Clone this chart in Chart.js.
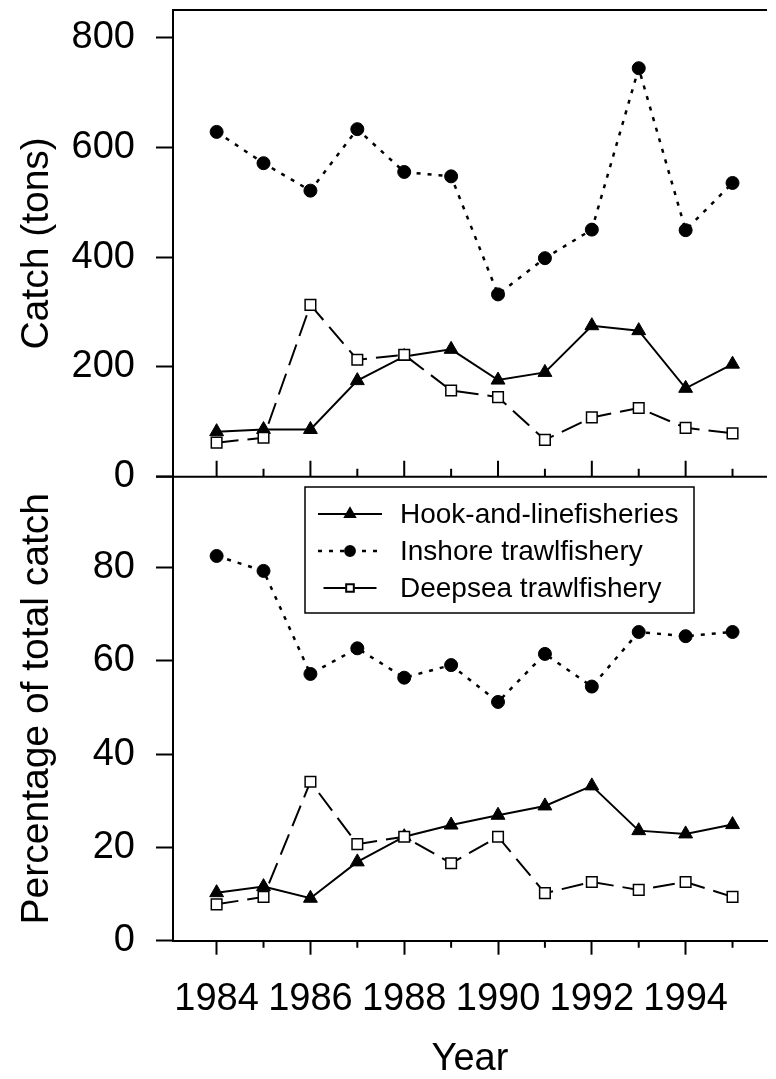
<!DOCTYPE html>
<html>
<head>
<meta charset="utf-8">
<script src="https://cdn.jsdelivr.net/npm/chart.js"></script>
<style>
  html, body { margin: 0; padding: 0; background: #fff; }
  canvas { display: block; }
</style>
</head>
<body>
<canvas id="catchChart" width="776" height="1079"></canvas>
<script>
// data
const years = [1984, 1985, 1986, 1987, 1988, 1989, 1990, 1991, 1992, 1993, 1994, 1995];
const yearLabels = [1984, 1986, 1988, 1990, 1992, 1994];

const hookTons    = [82, 86, 86, 175, 219, 232, 176, 190, 275, 266, 161, 205];
const inshoreTons = [628, 571, 521, 633, 555, 547, 332, 398, 450, 744, 449, 535];
const deepseaTons = [62, 71, 313, 213, 222, 157, 145, 67, 108, 125, 89, 79];

const hookPct    = [10.3, 11.6, 9.1, 16.9, 22.3, 24.8, 26.9, 28.9, 33.2, 23.6, 22.9, 24.9];
const inshorePct = [82.5, 79.3, 57.2, 62.7, 56.4, 59.1, 51.2, 61.5, 54.5, 66.2, 65.3, 66.2];
const deepseaPct = [7.8, 9.4, 34.1, 20.7, 22.3, 16.6, 22.3, 10.2, 12.6, 10.9, 12.6, 9.4];

const tonTicks = [0, 200, 400, 600, 800];
const pctTicks = [0, 20, 40, 60, 80];

Chart.defaults.font.family = "'Liberation Sans', Arial, sans-serif";
Chart.defaults.color = '#000';

const hookStyle = {borderWidth: 2, borderDash: [], pointStyle: 'triangle', pointRadius: 8,
  pointBackgroundColor: '#000', pointBorderWidth: 1, order: 1};
const inshoreStyle = {borderWidth: 2.5, borderDash: [4, 7], pointStyle: 'circle', pointRadius: 6.5,
  pointBackgroundColor: '#000', pointBorderWidth: 1, order: 2};
const deepseaStyle = {borderWidth: 2, borderDash: [22, 9], pointStyle: 'rect', pointRadius: 7.5,
  pointBackgroundColor: '#fff', pointBorderWidth: 1.5, order: 0};

function series(label, values, yAxisID, style) {
  return Object.assign({
    label: label,
    data: years.map((yr, i) => ({x: yr, y: values[i]})),
    yAxisID: yAxisID,
    borderColor: '#000',
    pointBorderColor: '#000',
    tension: 0,
    fill: false
  }, style);
}

function yAxis(ticks, max, title, weight) {
  return {
    type: 'linear', position: 'left', stack: 'panels', stackWeight: weight,
    min: 0, max: max,
    afterBuildTicks: s => { s.ticks = ticks.map(v => ({value: v})); },
    afterFit: s => { s.width = 173; s.paddingTop = 0; s.paddingBottom = 0; },
    grid: {drawOnChartArea: false, tickLength: 17, tickWidth: 2, tickColor: '#000'},
    border: {display: true, color: '#000', width: 2},
    ticks: {font: {size: 38}, padding: 21, color: '#000'},
    title: {display: true, text: title, color: '#000', font: {size: 39, lineHeight: 1},
      padding: {top: 18, bottom: 0}}
  };
}

// frame: top border, middle axis and the year ticks pointing up into the top panel
const panelFrame = {
  id: 'panelFrame',
  beforeDatasetsDraw(chart) {
    const {ctx, chartArea: a, scales: {x, yTop}} = chart;
    const mid = yTop.getPixelForValue(0);
    ctx.save();
    ctx.strokeStyle = '#000';
    ctx.lineWidth = 2;
    ctx.beginPath();
    ctx.moveTo(a.left, a.top); ctx.lineTo(a.right, a.top);
    ctx.moveTo(a.left - 17, mid); ctx.lineTo(a.right, mid);
    years.forEach(yr => {
      const px = x.getPixelForValue(yr);
      const major = yearLabels.includes(yr);
      ctx.moveTo(px, mid); ctx.lineTo(px, mid - (major ? 16 : 8));
      if (!major) { ctx.moveTo(px, a.bottom); ctx.lineTo(px, a.bottom + 7); }
    });
    ctx.stroke();
    ctx.restore();
  }
};

const legendBox = {left: 305, top: 487, width: 389, height: 126, firstRow: 27, rowGap: 37};

const boxLegend = {
  id: 'boxLegend',
  afterDatasetsDraw(chart) {
    const {ctx} = chart;
    const L = legendBox;
    ctx.save();
    ctx.fillStyle = '#fff';
    ctx.fillRect(L.left, L.top, L.width, L.height);
    ctx.strokeStyle = '#000';
    ctx.lineWidth = 1.5;
    ctx.strokeRect(L.left, L.top, L.width, L.height);
    const items = chart.data.datasets.filter(d => d.yAxisID === 'yBot');
    items.forEach((d, i) => {
      const cy = L.top + L.firstRow + i * L.rowGap;
      ctx.setLineDash(d.borderDash);
      // put the long-dash gap under the marker so the sample reads like the figure
      ctx.lineDashOffset = d.borderDash.length && d.borderDash[0] > 10 ? 25.5 : 0;
      ctx.lineWidth = d.borderWidth;
      ctx.strokeStyle = '#000';
      ctx.beginPath();
      ctx.moveTo(L.left + 13, cy); ctx.lineTo(L.left + 77, cy);
      ctx.stroke();
      ctx.setLineDash([]);
      ctx.fillStyle = d.pointBackgroundColor;
      Chart.helpers.drawPoint(ctx, {pointStyle: d.pointStyle, radius: d.pointRadius * 0.72,
        borderWidth: d.pointBorderWidth, rotation: 0}, L.left + 45, cy);
      ctx.fillStyle = '#000';
      ctx.font = "28px 'Liberation Sans', Arial, sans-serif";
      ctx.textBaseline = 'middle';
      ctx.textAlign = 'left';
      ctx.fillText(d.label, L.left + 95, cy + 1);
    });
    ctx.restore();
  }
};

new Chart(document.getElementById('catchChart').getContext('2d'), {
  type: 'line',
  data: {
    datasets: [
      series('Hook-and-linefisheries', hookTons, 'yTop', hookStyle),
      series('Inshore trawlfishery', inshoreTons, 'yTop', inshoreStyle),
      series('Deepsea trawlfishery', deepseaTons, 'yTop', deepseaStyle),
      series('Hook-and-linefisheries', hookPct, 'yBot', hookStyle),
      series('Inshore trawlfishery', inshorePct, 'yBot', inshoreStyle),
      series('Deepsea trawlfishery', deepseaPct, 'yBot', deepseaStyle)
    ]
  },
  options: {
    responsive: false,
    animation: false,
    devicePixelRatio: 1,
    layout: {padding: {top: 10, left: 0, right: 0, bottom: 0}},
    plugins: {legend: {display: false}, tooltip: {enabled: false}},
    scales: {
      x: {
        type: 'linear', min: 1983.07, max: 1995.735,
        afterBuildTicks: s => { s.ticks = years.map(v => ({value: v})); },
        afterFit: s => { s.height = 138.3; s.paddingLeft = 0; s.paddingRight = 0; },
        grid: {drawOnChartArea: false, tickLength: 14, tickWidth: 2,
          tickColor: c => (c.tick && yearLabels.includes(c.tick.value)) ? '#000' : 'rgba(0,0,0,0)'},
        border: {display: true, color: '#000', width: 2},
        ticks: {font: {size: 38}, padding: 22, autoSkip: false, maxRotation: 0, minRotation: 0,
          color: '#000', callback: v => yearLabels.includes(v) ? String(v) : ''},
        title: {display: true, text: 'Year', color: '#000', font: {size: 38, lineHeight: 1},
          padding: {top: 0, bottom: 0}}
      },
      // left boxes are stacked in reverse order, so the lower panel is listed first
      yBot: yAxis(pctTicks, 99.5, 'Percentage of total catch', 4640),
      yTop: yAxis(tonTicks, 850, 'Catch (tons)', 4667)
    }
  },
  plugins: [panelFrame, boxLegend]
});
</script>
</body>
</html>
